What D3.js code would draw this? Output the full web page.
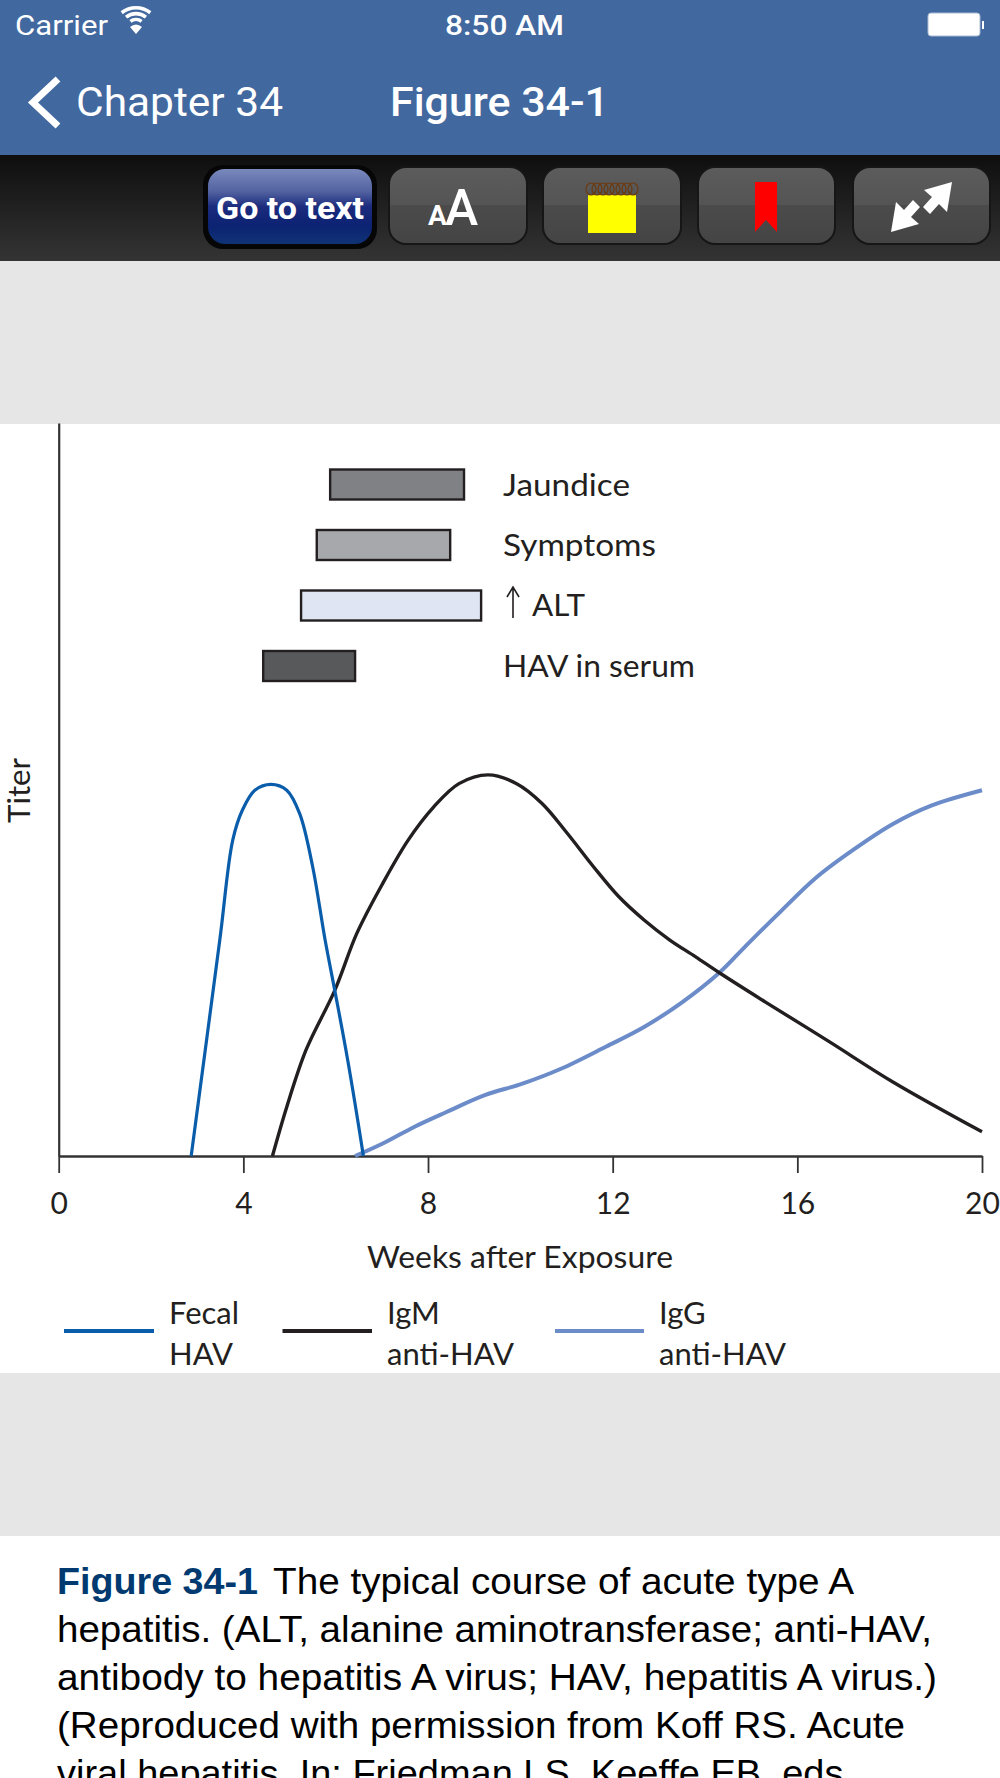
<!DOCTYPE html>
<html>
<head>
<meta charset="utf-8">
<title>Figure 34-1</title>
<script src="https://cdnjs.cloudflare.com/ajax/libs/d3/7.8.5/d3.min.js"></script>
<style>
  html, body { margin: 0; padding: 0; background: #fff; overflow: hidden; }
  svg { display: block; }
</style>
</head>
<body>
<svg id="page" width="1000" height="1778"></svg>
<script>
// weeks after exposure / titer (arbitrary units)
const fecalWeeks = [2.87, 3.49, 3.77, 3.98, 4.25, 4.6, 4.94, 5.22, 5.5, 5.77, 5.98, 6.26, 6.6];
const fecalTiter = [0, 29.5, 43.1, 47.2, 49.9, 50.7, 49.9, 46.7, 39.5, 29.5, 22.6, 13.1, 0];

const igmWeeks = [4.63, 4.94, 5.36, 5.98, 6.46, 7.02, 7.57, 8.12, 8.67, 9.3, 9.92, 10.47, 11.02, 11.58, 12.13, 12.68, 13.23, 13.79, 14.31, 15.31, 16.69, 18.07, 20];
const igmTiter = [0, 6.7, 14.5, 22.6, 30.4, 37.2, 43.1, 47.6, 50.8, 52, 50.8, 48.1, 44, 39.5, 35.4, 32.2, 29.5, 27.2, 25, 21, 15.6, 10.1, 3.3];

const iggWeeks = [6.42, 7.02, 7.71, 8.4, 9.23, 10.06, 10.88, 11.85, 12.68, 13.51, 14.31, 14.89, 15.58, 16.41, 17.24, 18.07, 18.9, 20];
const iggTiter = [0, 1.7, 4, 6, 8.3, 9.9, 11.9, 14.9, 17.6, 21, 25, 28.7, 33, 38, 41.9, 45.3, 47.8, 49.9];

const barNames = ['Jaundice', 'Symptoms', 'ALT', 'HAV in serum'];
const barStart = [5.88, 5.59, 5.25, 4.43];
const barEnd = [8.78, 8.48, 9.15, 6.42];
const barColors = ['#808185', '#a7a8ac', '#dfe5f2', '#58595b'];

const weekTicks = [0, 4, 8, 12, 16, 20];

const captionLines = [
  'hepatitis. (ALT, alanine aminotransferase; anti-HAV,',
  'antibody to hepatitis A virus; HAV, hepatitis A virus.)',
  '(Reproduced with permission from Koff RS. Acute',
  'viral hepatitis. In: Friedman LS, Keeffe EB, eds.'
];

const svg = d3.select('#page');
const defs = svg.append('defs');
const chartFont = 'Lato, "Open Sans", sans-serif';
const uiFont = 'Roboto, "Liberation Sans", sans-serif';
const capFont = '"Liberation Sans", Arial, sans-serif';

function gradient(id, stops) {
  const g = defs.append('linearGradient').attr('id', id).attr('x1', 0).attr('x2', 0).attr('y1', 0).attr('y2', 1);
  stops.forEach(s => g.append('stop').attr('offset', s[0]).attr('stop-color', s[1]));
}
gradient('barGrad', [[0, '#0e0e0e'], [1, '#343434']]);
gradient('btnGrad', [[0, '#5c5c5c'], [0.5, '#545454'], [0.5, '#4b4b4b'], [1, '#444']]);
gradient('goGrad', [[0, '#7a89bd'], [0.3, '#5262a0'], [0.5, '#1c2c7e'], [0.75, '#0c2272'], [1, '#0f3375']]);

// text helper, width squeezes the string to the measured width of the reference
function label(parent, x, y, str, o) {
  const t = parent.append('text').attr('x', x).attr('y', y).text(str)
    .attr('font-family', o.font).attr('font-size', o.size)
    .attr('font-weight', o.weight || 400).attr('fill', o.fill || '#231f20')
    .attr('text-anchor', o.anchor || 'start');
  if (o.width) t.attr('textLength', o.width).attr('lengthAdjust', 'spacingAndGlyphs');
  return t;
}

// page backgrounds
svg.append('rect').attr('width', 1000).attr('height', 1778).attr('fill', '#fff');
svg.append('rect').attr('width', 1000).attr('height', 155).attr('fill', '#41689f');
svg.append('rect').attr('y', 155).attr('width', 1000).attr('height', 106).attr('fill', 'url(#barGrad)');
svg.append('rect').attr('y', 261).attr('width', 1000).attr('height', 163).attr('fill', '#e6e6e6');
svg.append('rect').attr('y', 1373).attr('width', 1000).attr('height', 163).attr('fill', '#e6e6e6');

// status bar
const head = svg.append('g');
label(head, 15, 35, 'Carrier', { font: uiFont, size: 27, fill: '#fff', width: 93 });
label(head, 445, 35, '8:50 AM', { font: uiFont, size: 27, weight: 500, fill: '#fff', width: 119 });
[[23, 19], [16, 12], [9, 5]].forEach(r => {
  head.append('path')
    .attr('d', `M${136 - r[0] * 0.62} ${27 - r[0] * 0.62} A${r[0]} ${r[0]} 0 0 1 ${136 + r[0] * 0.62} ${27 - r[0] * 0.62}`)
    .attr('fill', 'none').attr('stroke', '#fff').attr('stroke-width', 3.6);
});
head.append('path').attr('d', 'M130 27 L136 34 L142 27 Q136 22 130 27 Z').attr('fill', '#fff');
head.append('rect').attr('x', 928).attr('y', 13).attr('width', 52).attr('height', 23).attr('rx', 3).attr('fill', '#fff').attr('stroke', '#a9bad3');
head.append('rect').attr('x', 982).attr('y', 21).attr('width', 2).attr('height', 8).attr('fill', '#fff');

// nav bar
head.append('path').attr('d', 'M58 80 L33 102 M33 102 L58 125').attr('d', 'M58 79 L33 102.5 L58 126')
  .attr('fill', 'none').attr('stroke', '#fff').attr('stroke-width', 7);
label(head, 76, 116, 'Chapter 34', { font: uiFont, size: 41, fill: '#fff', width: 207 });
label(head, 390, 116, 'Figure 34-1', { font: uiFont, size: 41, weight: 500, fill: '#fff', width: 219 });

// toolbar buttons
const tools = svg.append('g');
tools.append('rect').attr('x', 203).attr('y', 165).attr('width', 174).attr('height', 84).attr('rx', 20).attr('fill', '#060606');
tools.append('rect').attr('x', 208).attr('y', 169).attr('width', 164).attr('height', 75).attr('rx', 17).attr('fill', 'url(#goGrad)');
label(tools, 290, 219, 'Go to text', { font: uiFont, size: 31, weight: 700, fill: '#fff', anchor: 'middle', width: 148 });

[[389, 138], [543, 138], [698, 137], [853, 137]].forEach(b => {
  tools.append('rect').attr('x', b[0]).attr('y', 167).attr('width', b[1]).attr('height', 77).attr('rx', 17)
    .attr('fill', 'url(#btnGrad)').attr('stroke', '#161616').attr('stroke-width', 2);
});
label(tools, 428, 225, 'A', { font: uiFont, size: 28, weight: 700, fill: '#fff' });
label(tools, 445, 225, 'A', { font: uiFont, size: 50, weight: 500, fill: '#fff' });

tools.append('rect').attr('x', 588).attr('y', 195).attr('width', 48).attr('height', 38).attr('fill', '#ffff00');
d3.range(8).forEach(i => {
  tools.append('ellipse').attr('cx', 591 + i * 6).attr('cy', 189).attr('rx', 5).attr('ry', 6)
    .attr('fill', 'none').attr('stroke', '#6b3a10').attr('stroke-width', 1.2);
});
tools.append('path').attr('d', 'M755 182 H777 V232 L766 220 L755 232 Z').attr('fill', '#ff0000');
tools.append('path').attr('fill', '#fff')
  .attr('d', 'M952 182 L947 212 L939 204 L930 214 L923 207 L932 197 L924 190 Z M891 232 L896 202 L904 210 L913 200 L920 207 L911 217 L919 224 Z');

// chart
const x = d3.scaleLinear().domain([0, 20]).range([58.7, 982]);
const y = d3.scaleLinear().domain([0, 100]).range([1156, 423]);

const chart = svg.append('g');

const xAxis = chart.append('g').attr('transform', `translate(0,${y(0)})`)
  .call(d3.axisBottom(x).tickValues(weekTicks).tickSize(17).tickSizeOuter(0));
xAxis.select('.domain').attr('stroke', '#333').attr('stroke-width', 2.4);
xAxis.selectAll('.tick line').attr('stroke', '#333').attr('stroke-width', 1.8);
xAxis.selectAll('.tick text').attr('font-family', chartFont).attr('font-size', 30).attr('fill', '#231f20')
  .attr('dy', 0).attr('y', 58);

const yAxis = chart.append('g').attr('transform', `translate(${x(0)},0)`)
  .call(d3.axisLeft(y).tickValues([]).tickSizeOuter(0));
yAxis.select('.domain').attr('stroke', '#333').attr('stroke-width', 2.2);

const line = d3.line().x(d => x(d[0])).y(d => y(d[1])).curve(d3.curveCatmullRom.alpha(0.5));
const series = [
  [d3.zip(iggWeeks, iggTiter), '#6b8cc9', 4],
  [d3.zip(igmWeeks, igmTiter), '#231f20', 3.4],
  [d3.zip(fecalWeeks, fecalTiter), '#0a5dab', 3.2]
];
series.forEach(s => {
  chart.append('path').datum(s[0]).attr('d', line).attr('fill', 'none')
    .attr('stroke', s[1]).attr('stroke-width', s[2]);
});

// duration bars, one row each
const barRow = d3.scalePoint().domain(barNames).range([484.5, 666]);
const barLabelWidths = [127, 153, 0, 192];
const barH = 30;
barNames.forEach((name, i) => {
  chart.append('rect')
    .attr('x', x(barStart[i])).attr('width', x(barEnd[i]) - x(barStart[i]))
    .attr('y', barRow(name) - barH / 2).attr('height', barH)
    .attr('fill', barColors[i]).attr('stroke', '#231f20').attr('stroke-width', 2.4);
  if (name !== 'ALT') {
    label(chart, 503, barRow(name) + 11, name, { font: chartFont, size: 31, width: barLabelWidths[i] });
  }
});
label(chart, 532, 616, 'ALT', { font: chartFont, size: 31, width: 53 });
chart.append('path').attr('d', 'M513 618 V587 M507 597 L513 587 L519 597')
  .attr('fill', 'none').attr('stroke', '#231f20').attr('stroke-width', 1.6);

label(chart, 367, 1268, 'Weeks after Exposure', { font: chartFont, size: 31, width: 306 });
label(chart, 0, 0, 'Titer', { font: chartFont, size: 30, width: 65 })
  .attr('transform', 'translate(30,823) rotate(-90)');

// legend
const legendNames = [['Fecal', 'HAV'], ['IgM', 'anti-HAV'], ['IgG', 'anti-HAV']];
const legendLine = [[64, 154], [282.5, 372], [555, 644]];
const legendText = [169, 387, 659];
legendNames.forEach((n, i) => {
  chart.append('line').attr('x1', legendLine[i][0]).attr('x2', legendLine[i][1]).attr('y1', 1331).attr('y2', 1331)
    .attr('stroke', series[[2, 1, 0][i]][1]).attr('stroke-width', 4);
  label(chart, legendText[i], 1324, n[0], { font: chartFont, size: 31 });
  label(chart, legendText[i], 1365, n[1], { font: chartFont, size: 31 });
});

// caption
const cap = svg.append('g');
label(cap, 57, 1594, 'Figure 34-1', { font: capFont, size: 37, weight: 700, fill: '#003a70', width: 201 });
label(cap, 273, 1594, 'The typical course of acute type A', { font: capFont, size: 37, fill: '#000', width: 581 });
const capWidths = [875, 880, 848, 797];
captionLines.forEach((t, i) => {
  label(cap, 57, 1642 + i * 48, t, { font: capFont, size: 37, fill: '#000', width: capWidths[i] });
});
</script>
</body>
</html>
